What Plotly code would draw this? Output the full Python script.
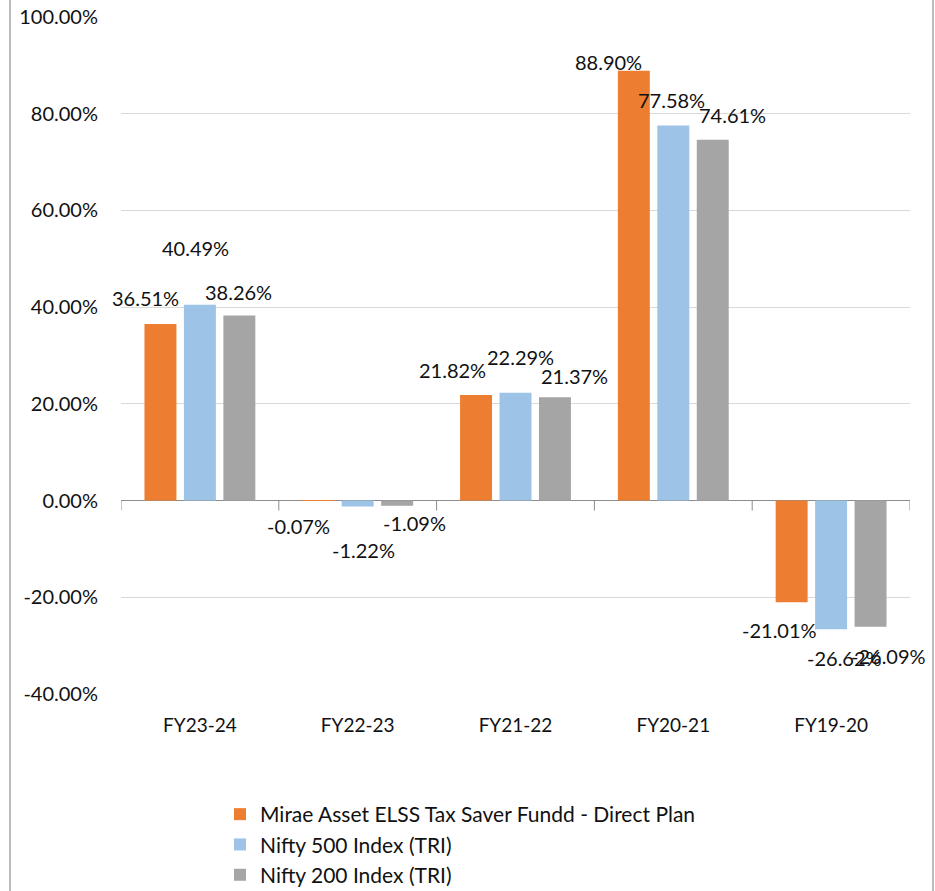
import plotly.graph_objects as go

categories = ["FY23-24", "FY22-23", "FY21-22", "FY20-21", "FY19-20"]
series_names = [
    "Mirae Asset ELSS Tax Saver Fundd - Direct Plan",
    "Nifty 500 Index (TRI)",
    "Nifty 200 Index (TRI)",
]
fund_values = [36.51, -0.07, 21.82, 88.90, -21.01]
nifty500_values = [40.49, -1.22, 22.29, 77.58, -26.62]
nifty200_values = [38.26, -1.09, 21.37, 74.61, -26.09]
y_ticks = [-40, -20, 0, 20, 40, 60, 80, 100]

colors = ["#ED7D31", "#9DC3E6", "#A5A5A5"]
all_values = [fund_values, nifty500_values, nifty200_values]

# label offsets (pixels) relative to bar center / bar end: (dx, dy up)
label_offsets = [
    [(-15, 26), (-20, -25), (-24, 25), (-25, 9), (-12, -28)],
    [(-4, 57), (6, -44), (5, 36), (-2, 25), (13, -29)],
    [(-1, 24), (17, -17), (20, 21), (20, 25), (18, -29)],
]

W, H = 935, 891
PL, PR, PT, PB = 121, 910, 17, 694  # plot area in page pixels
ML, MT, MR, MB = PL, PT, W - PR, H - PB
plot_w = W - ML - MR
plot_h = H - MT - MB
bargap = 0.25
bargroupgap = 0.19
FONT = "Lato"

fig = go.Figure()
for name, vals, col in zip(series_names, all_values, colors):
    fig.add_trace(go.Bar(x=categories, y=vals, name=name, marker_color=col,
                         marker_line_width=0))

cat_px = plot_w / len(categories)
slot = cat_px * (1 - bargap) / len(all_values)
annotations = []
for i, vals in enumerate(all_values):
    for j, v in enumerate(vals):
        dx, dy = label_offsets[i][j]
        annotations.append(dict(
            x=categories[j], y=v, xref="x", yref="y",
            text=f"{v:.2f}%", showarrow=False,
            xshift=(i - 1) * slot + dx, yshift=dy,
            xanchor="center", yanchor="middle",
            font=dict(family=FONT, size=20, color="#111111"),
        ))

shapes = []
for k in range(len(categories) + 1):
    shapes.append(dict(type="line", xref="x", yref="y", x0=k - 0.5, x1=k - 0.5,
                       ysizemode="pixel", yanchor=0, y0=0, y1=-10,
                       line=dict(color="#8c8c8c", width=1)))

def page_to_paper_x(px):
    return (px - PL) / plot_w

def page_to_paper_y(py):
    return (PB - py) / plot_h

for bx in (10, 933):
    shapes.append(dict(type="line", xref="paper", yref="paper",
                       x0=page_to_paper_x(bx), x1=page_to_paper_x(bx),
                       y0=page_to_paper_y(0), y1=page_to_paper_y(H + 5),
                       line=dict(color="#a6a6a6", width=1.5)))

fig.update_layout(
    width=W, height=H,
    margin=dict(l=ML, r=MR, t=MT, b=MB, autoexpand=False),
    paper_bgcolor="white", plot_bgcolor="white",
    barmode="group", bargap=bargap, bargroupgap=bargroupgap,
    font=dict(family=FONT, size=20, color="#111111"),
    xaxis=dict(range=[-0.5, len(categories) - 0.5], showgrid=False,
               showline=False, ticks="", ticklabelstandoff=18,
               tickfont=dict(family=FONT, size=19)),
    yaxis=dict(range=[-40, 100], tickvals=y_ticks,
               ticktext=[f"{t:.2f}%" for t in y_ticks],
               showgrid=True, gridcolor="#d9d9d9", gridwidth=1,
               zeroline=True, zerolinecolor="#8c8c8c", zerolinewidth=1,
               showline=False, ticks="", ticklabelstandoff=22,
               ticklabeloverflow="allow",
               tickfont=dict(family=FONT, size=20)),
    legend=dict(orientation="v", xref="container", yref="container",
                x=220 / W, xanchor="left",
                y=1 - 794 / H, yanchor="top",
                font=dict(family=FONT, size=21), tracegroupgap=0,
                bgcolor="rgba(0,0,0,0)"),
    annotations=annotations,
    shapes=shapes,
)

fig.write_html(
    "out.html",
    config={"displayModeBar": False},
    post_script="document.body.style.margin='0px';document.body.style.overflow='hidden';",
)
